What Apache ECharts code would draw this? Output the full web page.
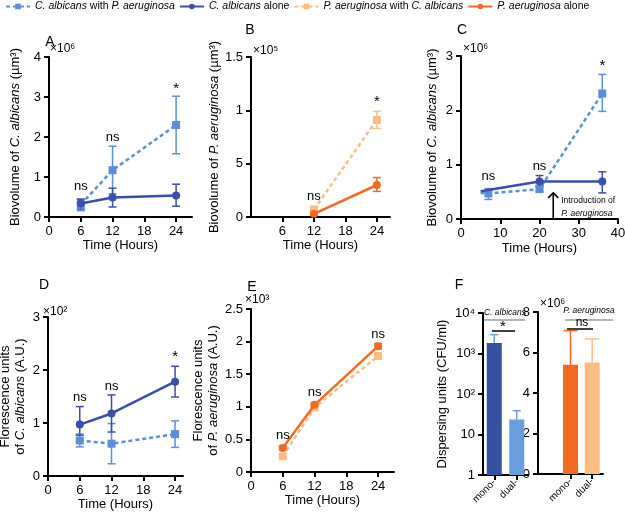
<!DOCTYPE html>
<html><head><meta charset="utf-8">
<script src="https://cdn.jsdelivr.net/npm/echarts@6/dist/echarts.min.js"></script>
<style>html,body{margin:0;padding:0;background:#fff}#c{width:625px;height:515px}</style>
</head><body><div id="c"></div>
<script>
// ---------- data ----------
const NAMES = ['C. albicans with P. aeruginosa','C. albicans alone','P. aeruginosa with C. albicans','P. aeruginosa alone'];
const LEGEND_RICH = ['{i|C. albicans} with {i|P. aeruginosa}','{i|C. albicans} alone','{i|P. aeruginosa} with {i|C. albicans}','{i|P. aeruginosa} alone'];
// Panel A
const xA = [6, 12, 24];
const caWithA = [0.31, 1.17, 2.30], caWithA_lo = [0.16, 0.58, 1.58], caWithA_hi = [0.43, 1.77, 3.02];
const caAloneA = [0.34, 0.49, 0.54], caAloneA_lo = [0.20, 0.25, 0.27], caAloneA_hi = [0.45, 0.72, 0.82];
const annA_x = [6, 12, 24], annA_y = [0.77, 2.0, 3.2], annA_t = ['ns', 'ns', '*'];
// Panel B
const xB = [12, 24];
const paWithB = [0.07, 0.91], paWithB_lo = [0.05, 0.83], paWithB_hi = [0.09, 0.99];
const paAloneB = [0.03, 0.30], paAloneB_lo = [0.02, 0.24], paAloneB_hi = [0.04, 0.37];
const annB_x = [12, 24], annB_y = [0.19, 1.08], annB_t = ['ns', '*'];
const tickB = ['0', '5', '1', '1.5'];
// Panel C
const xC_with = [5, 7, 20, 36], caWithC = [0.48, 0.47, 0.55, 2.31];
const xC_withErr = [7, 20, 36], caWithC_lo = [0.36, 0.50, 1.98], caWithC_hi = [0.56, 0.60, 2.66];
const xC_alone = [5, 20, 36], caAloneC = [0.51, 0.69, 0.69];
const xC_aloneErr = [20, 36], caAloneC_lo = [0.60, 0.48], caAloneC_hi = [0.80, 0.87];
const annC_x = [7, 20, 36], annC_y = [0.78, 0.96, 2.82], annC_t = ['ns', 'ns', '*'];
const arrowC = { x: 23.5, y0: 0, y1: 0.48 };
// Panel D
const xD = [6, 12, 24];
const caAloneD = [0.97, 1.18, 1.78], caAloneD_lo = [0.77, 0.83, 1.49], caAloneD_hi = [1.31, 1.53, 2.07];
const caWithD = [0.67, 0.61, 0.79], caWithD_lo = [0.55, 0.23, 0.54], caWithD_hi = [0.79, 0.99, 1.04];
const annD_x = [6, 12, 24], annD_y = [1.48, 1.69, 2.24], annD_t = ['ns', 'ns', '*'];
// Panel E
const xE = [6, 12, 24];
const paAloneE = [0.37, 1.03, 1.93], paAloneE_lo = [0.34, 1.00, 1.89], paAloneE_hi = [0.40, 1.06, 1.97];
const paWithE = [0.24, 0.99, 1.78], paWithE_lo = [0.21, 0.96, 1.74], paWithE_hi = [0.27, 1.02, 1.82];
const annE_x = [6, 12, 24], annE_y = [0.56, 1.22, 2.11], annE_t = ['ns', 'ns', 'ns'];
// Panel F
const catsF = ['mono-', 'dual-'];
const caF = [1820, 23.5], caF_hi = [2925, 38.5];
const paF = [5.40, 5.51], paF_hi = [7.08, 6.67];
const timeTicks = [0, 6, 12, 18, 24];

// ---------- style ----------
const F = 'Liberation Sans, Arial, sans-serif';
const DB = '#3b4fa6', LB = '#5a8fd8', OR = '#f26a21', LO = '#fdbd80';
const BARDB = '#34509e', BARLB = '#6a9dda';
const zip = (xs, ys) => xs.map((x, i) => [x, ys[i]]);

function axBase(extra) {
  return Object.assign({
    axisLine: { show: true, onZero: false, lineStyle: { color: '#000', width: 2 } },
    axisTick: { show: true, inside: false, length: 5, lineStyle: { color: '#000', width: 2 } },
    axisLabel: { color: '#000', fontSize: 13, fontFamily: F, margin: 8 },
    splitLine: { show: false },
    nameTextStyle: { color: '#000', fontSize: 13, fontFamily: F, rich: { i: { fontStyle: 'italic', fontSize: 13, fontFamily: F, color: '#000' } } }
  }, extra);
}
function xTime(grid, max, ticks, gap) {
  return axBase({ type: 'value', gridIndex: grid, min: 0, max: max,
    axisLabel: { color: '#000', fontSize: 13, fontFamily: F, margin: 8, customValues: ticks },
    axisTick: { show: true, length: 5, lineStyle: { color: '#000', width: 2 }, customValues: ticks },
    name: 'Time (Hours)', nameLocation: 'middle', nameGap: gap });
}
function yVal(grid, max, interval, name, gap, fmt, lh) {
  const o = axBase({ type: 'value', gridIndex: grid, min: 0, max: max, interval: interval,
    name: name, nameLocation: 'middle', nameGap: gap });
  o.axisLabel = { color: '#000', fontSize: 13, fontFamily: F, margin: 8 };
  if (fmt) o.axisLabel.formatter = fmt;
  if (lh) { o.nameTextStyle.lineHeight = lh; o.nameTextStyle.rich.i.lineHeight = lh; }
  return o;
}
function lineS(name, xi, data, color, dashed) {
  return { name: name, type: 'line', xAxisIndex: xi, yAxisIndex: xi, data: data,
    symbol: dashed ? 'rect' : 'circle', symbolSize: 8, showSymbol: true,
    itemStyle: { color: color }, lineStyle: { color: color, width: 2.5, type: dashed ? [4, 3] : 'solid' },
    z: dashed ? 3 : 4, animation: false };
}
function errS(xi, yi, xs, lo, hi, color, noLowCap) {
  return { type: 'custom', xAxisIndex: xi, yAxisIndex: yi, silent: true, z: 2, animation: false,
    data: xs.map((x, i) => [x, lo[i], hi[i]]), encode: { x: 0, y: [1, 2] },
    renderItem: function (params, api) {
      const x = api.value(0), p1 = api.coord([x, api.value(1)]), p2 = api.coord([x, api.value(2)]);
      const w = 4, st = { stroke: color, lineWidth: 1.5 };
      const ch = [
        { type: 'line', shape: { x1: p1[0], y1: p1[1], x2: p2[0], y2: p2[1] }, style: st },
        { type: 'line', shape: { x1: p2[0] - w, y1: p2[1], x2: p2[0] + w, y2: p2[1] }, style: st }];
      if (!noLowCap) ch.push({ type: 'line', shape: { x1: p1[0] - w, y1: p1[1], x2: p1[0] + w, y2: p1[1] }, style: st });
      return { type: 'group', children: ch };
    } };
}
function annS(xi, xs, ys, ts) {
  return { type: 'custom', xAxisIndex: xi, yAxisIndex: xi, silent: true, z: 5, animation: false,
    data: zip(xs, ys), encode: { x: 0, y: 1 },
    renderItem: function (params, api) {
      const p = api.coord([api.value(0), api.value(1)]);
      const t = ts[params.dataIndex];
      return { type: 'text', x: p[0], y: p[1], style: { text: t, fill: '#000', fontFamily: F,
        fontSize: t === '*' ? 15 : 13, align: 'center', verticalAlign: 'middle' } };
    } };
}

const grids = [
  { left: 49, top: 57, width: 143, height: 160 },   // A
  { left: 251, top: 57, width: 139, height: 160 },  // B
  { left: 461, top: 56, width: 157, height: 163 },  // C
  { left: 48, top: 317, width: 135, height: 159 },  // D
  { left: 251, top: 309, width: 143, height: 163 }, // E
  { left: 483, top: 313, width: 45, height: 162 },  // F left
  { left: 538, top: 312, width: 65, height: 162 }   // F right
].map(g => Object.assign({ containLabel: false, outerBoundsMode: 'none' }, g));

const sup = { 1: '1', 10: '10', 100: '10²', 1000: '10³', 10000: '10⁴' };

const xAxes = [
  xTime(0, 27, timeTicks, 22),
  xTime(1, 26.5, [6, 12, 18, 24], 22),
  axBase({ type: 'value', gridIndex: 2, min: 0, max: 40, interval: 10, name: 'Time (Hours)', nameLocation: 'middle', nameGap: 23 }),
  xTime(3, 25.5, timeTicks, 22),
  xTime(4, 27, timeTicks, 22),
  axBase({ type: 'category', gridIndex: 5, data: catsF,
    axisTick: { show: true, alignWithLabel: true, length: 5, lineStyle: { color: '#000', width: 2 } },
    axisLabel: { color: '#000', fontSize: 10, fontFamily: F, rotate: 45, margin: 6 } }),
  axBase({ type: 'category', gridIndex: 6, data: [''].concat(catsF),
    axisTick: { show: true, alignWithLabel: true, interval: (i) => i > 0, length: 5, lineStyle: { color: '#000', width: 2 } },
    axisLabel: { color: '#000', fontSize: 10, fontFamily: F, rotate: 45, margin: 6, interval: 0 } })
];
const yAxes = [
  yVal(0, 4, 1, 'Biovolume of {i|C. albicans} (µm³)', 27),
  yVal(1, 1.5, 0.5, 'Biovolume of {i|P. aeruginosa} (µm³)', 27, (v, i) => tickB[i]),
  yVal(2, 3, 1, 'Biovolume of {i|C. albicans} (µm³)', 22),
  yVal(3, 3, 1, 'Florescence units\nof {i|C. albicans} (A.U.)', 20, null, 15),
  yVal(4, 2.5, 0.5, 'Florescence units\nof {i|P. aeruginosa} (A.U.)', 26, null, 15),
  axBase({ type: 'log', gridIndex: 5, min: 1, max: 10000, logBase: 10,
    axisLabel: { color: '#000', fontSize: 13, fontFamily: F, margin: 8, formatter: v => (sup[Math.round(v)] || '') },
    name: 'Dispersing units (CFU/ml)', nameLocation: 'middle', nameGap: 34 }),
  yVal(6, 8, 2, '', 0)
];

const series = [
  // A
  errS(0, 0, xA, caWithA_lo, caWithA_hi, LB),
  errS(0, 0, xA, caAloneA_lo, caAloneA_hi, DB),
  lineS(NAMES[0], 0, zip(xA, caWithA), LB, true),
  lineS(NAMES[1], 0, zip(xA, caAloneA), DB, false),
  annS(0, annA_x, annA_y, annA_t),
  // B
  errS(1, 1, xB, paWithB_lo, paWithB_hi, LO),
  errS(1, 1, xB, paAloneB_lo, paAloneB_hi, OR),
  lineS(NAMES[2], 1, zip(xB, paWithB), LO, true),
  lineS(NAMES[3], 1, zip(xB, paAloneB), OR, false),
  annS(1, annB_x, annB_y, annB_t),
  // C
  errS(2, 2, xC_withErr, caWithC_lo, caWithC_hi, LB),
  errS(2, 2, xC_aloneErr, caAloneC_lo, caAloneC_hi, DB),
  lineS(NAMES[0], 2, zip(xC_with, caWithC).map((d, i) => i === 0 ? { value: d, symbol: 'none' } : d), LB, true),
  lineS(NAMES[1], 2, zip(xC_alone, caAloneC).map((d, i) => i === 0 ? { value: d, symbol: 'none' } : d), DB, false),
  annS(2, annC_x, annC_y, annC_t),
  { type: 'custom', xAxisIndex: 2, yAxisIndex: 2, silent: true, z: 6, animation: false,
    data: [[arrowC.x, arrowC.y0, arrowC.y1]], encode: { x: 0, y: [1, 2] },
    renderItem: function (params, api) {
      const p0 = api.coord([api.value(0), api.value(1)]), p1 = api.coord([api.value(0), api.value(2)]);
      const st = { stroke: '#000', lineWidth: 1.6, fill: 'none' };
      return { type: 'group', children: [
        { type: 'line', shape: { x1: p0[0], y1: p0[1], x2: p1[0], y2: p1[1] }, style: st },
        { type: 'polyline', shape: { points: [[p1[0] - 5, p1[1] + 5], [p1[0], p1[1]], [p1[0] + 5, p1[1] + 5]] }, style: st },
        { type: 'text', x: p1[0] + 8, y: p1[1] + 8, style: { text: 'Introduction of', fontSize: 8.5, fontFamily: F, fill: '#000', align: 'left', verticalAlign: 'middle' } },
        { type: 'text', x: p1[0] + 8, y: p1[1] + 21, style: { text: 'P. aeruginosa', fontSize: 8.5, fontStyle: 'italic', fontFamily: F, fill: '#000', align: 'left', verticalAlign: 'middle' } }
      ] };
    } },
  // D
  errS(3, 3, xD, caWithD_lo, caWithD_hi, LB),
  errS(3, 3, xD, caAloneD_lo, caAloneD_hi, DB),
  lineS(NAMES[0], 3, zip(xD, caWithD), LB, true),
  lineS(NAMES[1], 3, zip(xD, caAloneD), DB, false),
  annS(3, annD_x, annD_y, annD_t),
  // E
  errS(4, 4, xE, paWithE_lo, paWithE_hi, LO),
  errS(4, 4, xE, paAloneE_lo, paAloneE_hi, OR),
  lineS(NAMES[2], 4, zip(xE, paWithE), LO, true),
  lineS(NAMES[3], 4, zip(xE, paAloneE), OR, false),
  annS(4, annE_x, annE_y, annE_t),
  // F left
  { type: 'bar', xAxisIndex: 5, yAxisIndex: 5, barWidth: 15, animation: false,
    data: caF.map((v, i) => ({ value: v, itemStyle: { color: i === 0 ? BARDB : BARLB } })) },
  errS(5, 5, [0, 1], caF, caF_hi, BARLB, true),
  // F right
  { type: 'bar', xAxisIndex: 6, yAxisIndex: 6, barWidth: 15, animation: false,
    data: [null].concat(paF.map((v, i) => ({ value: v, itemStyle: { color: i === 0 ? OR : LO } }))) },
  errS(6, 6, [1, 2], paF, paF_hi, null, true)
];
// right-panel error bar colours per bar
series[series.length - 1].renderItem = function (params, api) {
  const cols = [OR, LO];
  const x = api.value(0), p1 = api.coord([x, api.value(1)]), p2 = api.coord([x, api.value(2)]);
  const st = { stroke: cols[params.dataIndex], lineWidth: 1.5 };
  return { type: 'group', children: [
    { type: 'line', shape: { x1: p1[0], y1: p1[1], x2: p2[0], y2: p2[1] }, style: st },
    { type: 'line', shape: { x1: p2[0] - 7, y1: p2[1], x2: p2[0] + 7, y2: p2[1] }, style: st }] };
};

function txt(x, y, t, size, opts) {
  return Object.assign({ type: 'text', x: x, y: y, silent: true,
    style: Object.assign({ text: t, fontSize: size, fontFamily: F, fill: '#000', align: 'center', verticalAlign: 'middle' }, opts || {}) });
}
function ln(x1, y1, x2, y2, c) {
  return { type: 'line', silent: true, shape: { x1: x1, y1: y1, x2: x2, y2: y2 }, style: { stroke: c, lineWidth: 1.5 } };
}
const graphic = [
  txt(50, 42, 'A', 14), txt(250, 30, 'B', 14), txt(462, 30, 'C', 14),
  txt(44, 285, 'D', 14), txt(252, 287, 'E', 14), txt(459, 285, 'F', 14),
  txt(50, 49, '×10⁶', 12, { align: 'left' }), txt(253, 51, '×10⁵', 12, { align: 'left' }),
  txt(463, 49, '×10⁶', 12, { align: 'left' }), txt(43, 312, '×10²', 12, { align: 'left' }),
  txt(245, 300, '×10³', 12, { align: 'left' }), txt(540, 304, '×10⁶', 12, { align: 'left' }),
  txt(505, 313, 'C. albicans', 8.5, { fontStyle: 'italic' }), ln(483, 320, 525, 320, '#9a9a9a'),
  txt(503, 327, '*', 15), ln(492, 331, 515, 331, '#000'),
  txt(589, 311, 'P. aeruginosa', 8.5, { fontStyle: 'italic' }), ln(565, 320, 613, 320, '#9a9a9a'),
  txt(582, 323, 'ns', 12), ln(567, 329, 593, 329, '#000')
];

const chart = echarts.init(document.getElementById('c'), null, { renderer: 'canvas' });
chart.setOption({
  animation: false,
  backgroundColor: '#fff',
  textStyle: { fontFamily: F },
  legend: { left: 5, top: 1, padding: 0, itemGap: 4, itemWidth: 24, itemHeight: 7, data: NAMES,
    formatter: n => LEGEND_RICH[NAMES.indexOf(n)],
    textStyle: { fontSize: 10.5, fontFamily: F, color: '#000', rich: { i: { fontStyle: 'italic', fontSize: 10.5, fontFamily: F, color: '#000' } } } },
  grid: grids, xAxis: xAxes, yAxis: yAxes, series: series, graphic: graphic
});
</script></body></html>
